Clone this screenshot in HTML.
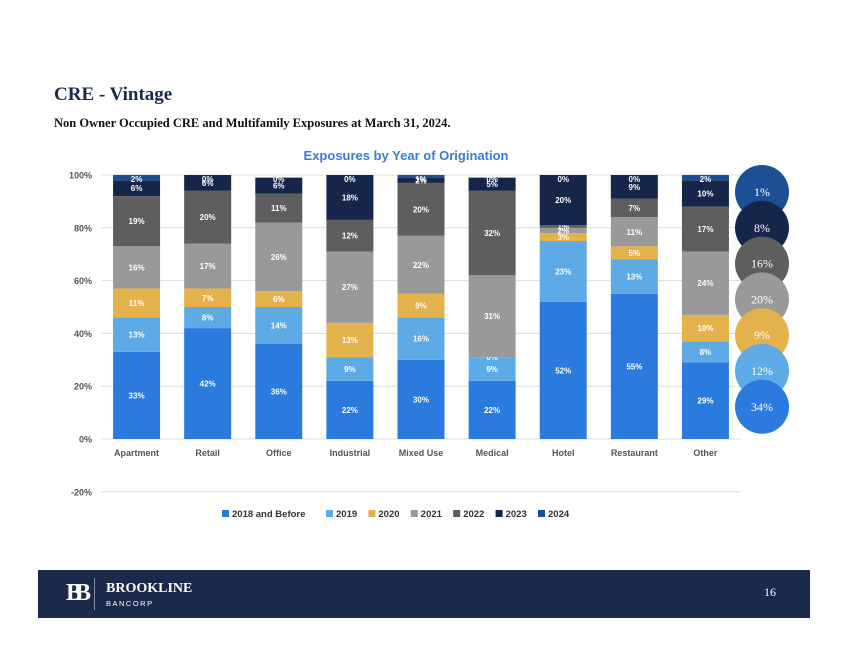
<!DOCTYPE html>
<html><head><meta charset="utf-8">
<style>
body{margin:0;width:850px;height:657px;background:#fff;overflow:hidden;position:relative;font-family:"Liberation Sans",sans-serif}
.t{position:absolute;font-family:"Liberation Serif",serif;font-weight:bold;color:#1b2a4a}
</style></head><body>
<div class="t" style="left:54px;top:84px;font-size:19px">CRE - Vintage</div>
<div class="t" style="left:54px;top:116px;font-size:12.5px;color:#111">Non Owner Occupied CRE and Multifamily Exposures at March 31, 2024.</div>
<svg id="chart" width="850" height="540" style="position:absolute;left:0;top:0"></svg>
<div style="position:absolute;left:38px;top:570px;width:772px;height:48px;background:#1b2a4a">
 <div style="position:absolute;left:28px;top:10px;color:#fff;font-family:'Liberation Serif',serif;font-weight:bold;font-size:24px;letter-spacing:-7px">BB</div>
 <div style="position:absolute;left:56px;top:8px;width:1px;height:32px;background:#8090a8"></div>
 <div style="position:absolute;left:68px;top:11px;color:#fff;font-family:'Liberation Serif',serif;font-weight:bold;font-size:14px">BROOKLINE</div>
 <div style="position:absolute;left:68px;top:29px;color:#fff;font-size:7.5px;letter-spacing:1.5px">BANCORP</div>
 <div style="position:absolute;left:726px;top:15px;color:#fff;font-family:'Liberation Serif',serif;font-size:12px">16</div>
</div>
<script>
const categories=["Apartment","Retail","Office","Industrial","Mixed Use","Medical","Hotel","Restaurant","Other"];
const seriesNames=["2018 and Before","2019","2020","2021","2022","2023","2024"];
const s2018=[33,42,36,22,30,22,52,55,29];
const s2019=[13,8,14,9,16,9,23,13,8];
const s2020=[11,7,6,13,9,0,3,5,10];
const s2021=[16,17,26,27,22,31,2,11,24];
const s2022=[19,20,11,12,20,32,1,7,17];
const s2023=[6,6,6,18,2,5,20,9,10];
const s2024=[2,0,0,0,1,0,0,0,2];
const yTicks=[-20,0,20,40,60,80,100];
const totalsLabels=["1%","8%","16%","20%","9%","12%","34%"];
const colors=["#2b7bde","#5eaae6","#e3b24a","#999999","#5e5e5e","#15264a","#1d4f95"];
const series=[s2018,s2019,s2020,s2021,s2022,s2023,s2024];
const svg=document.getElementById('chart');
const NS="http://www.w3.org/2000/svg";
const x0=101,x1=741,step=(x1-x0)/categories.length,bw=47;
const y=v=>439-Math.min(v,100)*2.64;
const xc=i=>x0+step*(i+0.5);
function mk(tag,attrs,txt){const e=document.createElementNS(NS,tag);for(const k in attrs)e.setAttribute(k,attrs[k]);if(txt!==undefined)e.textContent=txt;svg.appendChild(e);return e;}
const ttl=mk('text',{x:406,y:160,'text-anchor':'middle','font-size':13,'font-weight':'bold',fill:'#3b7bd6'},'Exposures by Year of Origination');


yTicks.forEach(t=>{
 const l=mk('line',{x1:x0,x2:x1,y1:439-t*2.64,y2:439-t*2.64,stroke:'#dcdcdc','stroke-width':1});
 
 
 const tx=mk('text',{x:92,y:439-t*2.64+3.5,'text-anchor':'end','font-size':9,'font-weight':'bold',fill:'#555'},t+'%');
 
 
});
categories.forEach((c,i)=>{
 let cum=0;
 series.forEach((s,j)=>{
  const v=s[i];const top=y(cum+v),bot=y(cum);
  const r=mk('rect',{x:xc(i)-bw/2,y:top,width:bw,height:Math.max(0,bot-top),fill:colors[j]});
  
  
  const lb=mk('text',{x:xc(i),y:Math.max((top+bot)/2+3,182),'text-anchor':'middle','font-size':8,'font-weight':'bold',fill:'#fff'},v+'%');
  
  
  cum+=v;
 });
 const cl=mk('text',{x:xc(i),y:456,'text-anchor':'middle','font-size':9,'font-weight':'bold',fill:'#555'},c);
 
 
});
let lx=222;
seriesNames.forEach((n,j)=>{
 const r=mk('rect',{x:lx,y:510,width:7,height:7,fill:colors[j]});
 
 
 const t=mk('text',{x:lx+10,y:517,'font-size':9.5,'font-weight':'bold',fill:'#333'},n);
 
 
 lx+=10+n.length*5.6+10;
});
const circColors=["#1d4f95","#15264a","#5e5e5e","#999999","#e3b24a","#5eaae6","#2b7bde"];
totalsLabels.forEach((t,k)=>{
 const cy=192+k*35.8;
 const c=mk('circle',{cx:762,cy:cy,r:27,fill:circColors[k]});
 
 
 const tx=mk('text',{x:762,y:cy+4,'text-anchor':'middle','font-size':12,fill:'#fff','font-family':'Liberation Serif,serif'},t);
 
 
});
</script>
</body></html>
